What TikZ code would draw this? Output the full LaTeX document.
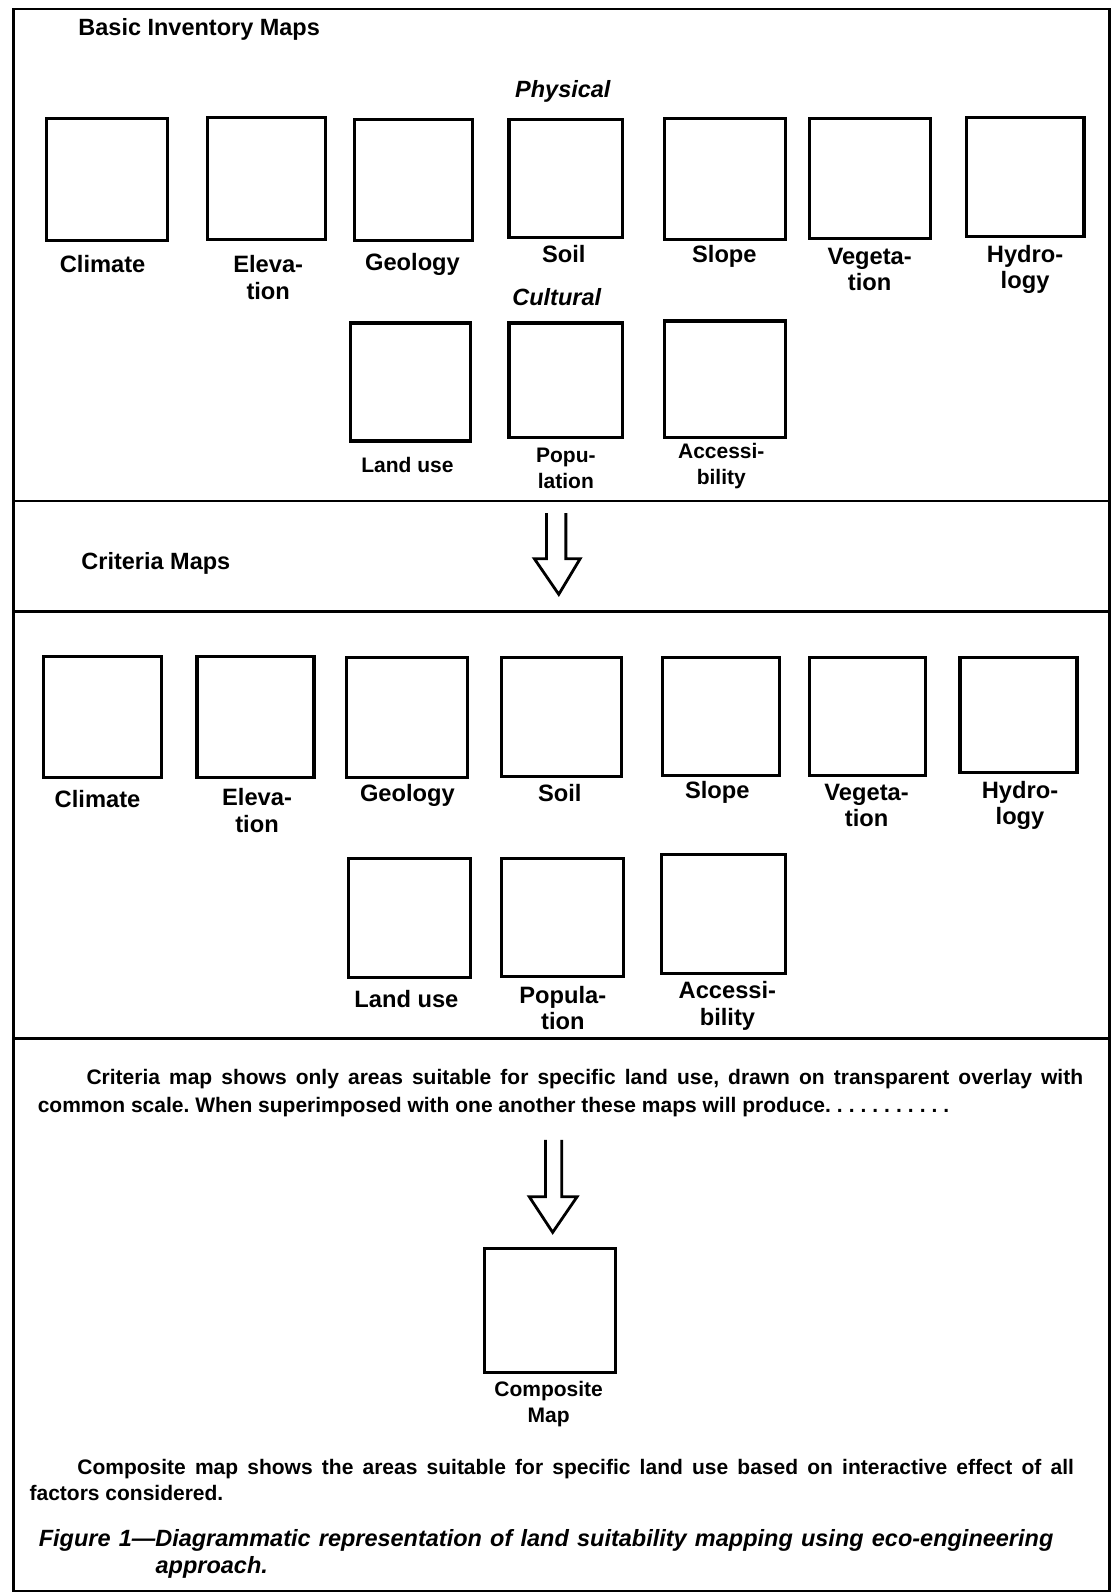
\documentclass[tikz,border=0pt]{standalone}
\usepackage{fontspec}
\setmainfont{Liberation Sans}
\usetikzlibrary{fit}
\newcommand{\dotgap}{\hspace{6pt}}
\frenchspacing
\begin{document}
\begin{tikzpicture}[x=1.0164pt,y=-1.0164pt,
  mapbox/.style={draw, line width=3.2pt, inner sep=0pt},
  lab/.style={font=\fontsize{23.7}{26.5}\selectfont\bfseries, align=center, inner sep=0pt},
  slab/.style={font=\fontsize{21}{26}\selectfont\bfseries, align=center, inner sep=0pt},
  head/.style={font=\fontsize{23.5}{28}\selectfont\bfseries, anchor=west, inner sep=0pt},
  sub/.style={font=\fontsize{23.5}{28}\selectfont\bfseries\itshape, inner sep=0pt},
  para/.style={font=\fontsize{21}{26}\selectfont\bfseries, anchor=west, inner sep=0pt},
  capt/.style={font=\fontsize{23.5}{28}\selectfont\bfseries\itshape, anchor=west, inner sep=0pt},
  rule/.style={line width=2.6pt},
  bigarrow/.style={line width=2.8pt, line join=miter}
]
\useasboundingbox (0,0) rectangle (1100,1568);
% frame and separators
\draw[rule] (13,9) rectangle (1092,1566);
\coordinate (s1l) at (13,493);  \coordinate (s1r) at (1092,493);
\coordinate (s2l) at (13,602);  \coordinate (s2r) at (1092,602);
\coordinate (s3l) at (13,1022); \coordinate (s3r) at (1092,1022);
\draw[rule] (s1l) -- (s1r);
\draw[rule] (s2l) -- (s2r);
\draw[rule] (s3l) -- (s3r);

% ---------- Basic inventory maps ----------
\node[head] (h1) at (77,29) {Basic Inventory Maps};
\node[sub] (phys) at (554,90) {Physical};
\node[sub] (cult) at (548,292) {Cultural};

\node[mapbox, fit={(46,117) (165,237)}] (b1) {};
\node[mapbox, fit={(204,116) (320,236)}] (b2) {};
\node[mapbox, fit={(349,118) (465,237)}] (b3) {};
\node[mapbox, fit={(501,118) (613,234)}] (b4) {};
\node[mapbox, fit={(654,117) (773,236)}] (b5) {};
\node[mapbox, fit={(797,117) (916,235)}] (b6) {};
\node[mapbox, fit={(951,116) (1067,233)}] (b7) {};
\node[lab] (l1) at (101,260) {Climate};
\node[lab] (l2) at (264,273) {Eleva-\\tion};
\node[lab] (l3) at (406,260) {Geology};
\node[lab] (l4) at (555,250) {Soil};
\node[lab] (l5) at (713,252) {Slope};
\node[lab] (l6) at (856,265) {Vegeta-\\tion};
\node[lab] (l7) at (1009,265) {Hydro-\\logy};

\node[mapbox, fit={(345,318) (463,434)}] (c1) {};
\node[mapbox, fit={(501,318) (613,431)}] (c2) {};
\node[mapbox, fit={(654,316) (773,431)}] (c3) {};
\node[slab] (m1) at (401,458) {Land use};
\node[slab] (m2) at (557,461) {Popu-\\lation};
\node[slab] (m3) at (710,459) {Accessi-\\bility};

% ---------- arrow 1 ----------
\coordinate (a1l) at (538,505);
\coordinate (a1r) at (557,505);
\draw[bigarrow] (a1l) -- (538,550) -- (526,550) -- (550,585) -- (571,550) -- (557,550) -- (a1r);

% ---------- Criteria maps ----------
\node[head] (h2) at (80,555) {Criteria Maps};

\node[mapbox, fit={(43,646) (159,765)}] (d1) {};
\node[mapbox, fit={(194,646) (309,765)}] (d2) {};
\node[mapbox, fit={(341,647) (460,765)}] (d3) {};
\node[mapbox, fit={(494,647) (612,764)}] (d4) {};
\node[mapbox, fit={(652,647) (767,763)}] (d5) {};
\node[mapbox, fit={(797,647) (911,763)}] (d6) {};
\node[mapbox, fit={(945,647) (1060,760)}] (d7) {};
\node[lab] (n1) at (96,786) {Climate};
\node[lab] (n2) at (253,798) {Eleva-\\tion};
\node[lab] (n3) at (401,783) {Geology};
\node[lab] (n4) at (551,781) {Soil};
\node[lab] (n5) at (706,780) {Slope};
\node[lab] (n6) at (853,793) {Vegeta-\\tion};
\node[lab] (n7) at (1004,793) {Hydro-\\logy};

\node[mapbox, fit={(343,845) (463,962)}] (e1) {};
\node[mapbox, fit={(494,845) (614,961)}] (e2) {};
\node[mapbox, fit={(651,841) (773,958)}] (e3) {};
\node[lab] (o1) at (400,983) {Land use};
\node[lab] (o2) at (554,992) {Popula-\\tion};
\node[lab] (o3) at (716,990) {Accessi-\\bility};

% ---------- composite section ----------
\node[para] (p1a) at (85,1062) {\makebox[997pt][s]{Criteria map shows only areas suitable for specific land use, drawn on transparent overlay with}};
\node[para] (p1b) at (37,1090) {common scale. When superimposed with one another these maps will produce.\dotgap.\dotgap.\dotgap.\dotgap.\dotgap.\dotgap.\dotgap.\dotgap.\dotgap.\dotgap.};

\coordinate (a2l) at (537,1122);
\coordinate (a2r) at (553,1122);
\draw[bigarrow] (a2l) -- (537,1178) -- (521,1178) -- (544,1213) -- (568,1178) -- (553,1178) -- (a2r);

\node[mapbox, fit={(477,1229) (606,1351)}] (comp) {};
\node[slab] (cl) at (540,1382) {Composite\\Map};

\node[para] (p2a) at (76,1446) {\makebox[997pt][s]{Composite map shows the areas suitable for specific land use based on interactive effect of all}};
\node[para] (p2b) at (29,1470) {factors considered.};

\node[capt] (cap1) at (38,1516) {\makebox[1015pt][s]{Figure 1---Diagrammatic representation of land suitability mapping using eco-engineering}};
\node[capt] (cap2) at (153,1543) {approach.};
\end{tikzpicture}
\end{document}
